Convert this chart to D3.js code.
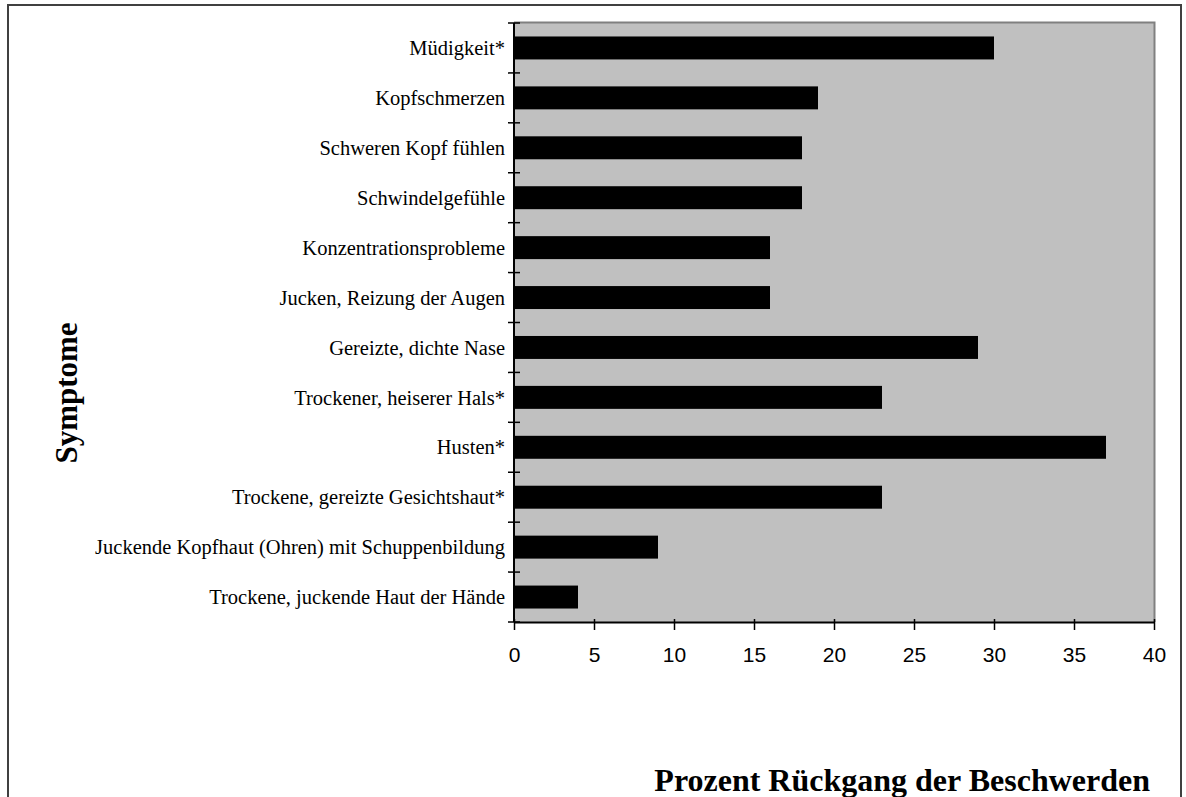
<!DOCTYPE html>
<html>
<head>
<meta charset="utf-8">
<script src="https://cdn.jsdelivr.net/npm/d3@7"></script>
<style>
  body { margin: 0; background: #fff; }
  svg { display: block; }
</style>
</head>
<body>
<div id="chart"></div>
<script>
// symptoms top to bottom, percentage decline of complaints
const symptoms = [
  'Müdigkeit*', 'Kopfschmerzen', 'Schweren Kopf fühlen', 'Schwindelgefühle',
  'Konzentrationsprobleme', 'Jucken, Reizung der Augen', 'Gereizte, dichte Nase',
  'Trockener, heiserer Hals*', 'Husten*', 'Trockene, gereizte Gesichtshaut*',
  'Juckende Kopfhaut (Ohren) mit Schuppenbildung', 'Trockene, juckende Haut der Hände'
];
const decline = [30, 19, 18, 18, 16, 16, 29, 23, 37, 23, 9, 4];
const xTicks = [0, 5, 10, 15, 20, 25, 30, 35, 40];

const W = 1186, H = 797;
const M = { top: 23, right: 32, bottom: 175, left: 514 };
const pw = W - M.left - M.right, ph = H - M.top - M.bottom;

const svg = d3.select('#chart').append('svg').attr('width', W).attr('height', H);

// outer frame
svg.append('rect').attr('x', 8).attr('y', 5).attr('width', 1173).attr('height', 820)
  .attr('fill', '#fff').attr('stroke', '#404040').attr('stroke-width', 2);

const g = svg.append('g').attr('transform', `translate(${M.left},${M.top})`);

const x = d3.scaleLinear().domain([0, 40]).range([0, pw]);
const y = d3.scaleBand().domain(symptoms).range([0, ph]).paddingInner(0.54).paddingOuter(0.27);
const yb = d3.scaleBand().domain(symptoms).range([0, ph]);

g.append('rect').attr('width', pw).attr('height', ph).attr('fill', '#c0c0c0');
g.append('path').attr('d', `M0,-0.5H${pw + 0.5}V${ph}`).attr('fill', 'none')
  .attr('stroke', '#808080').attr('stroke-width', 2);

g.selectAll('rect.bar').data(decline).join('rect').attr('class', 'bar')
  .attr('x', 0).attr('y', (d, i) => y(symptoms[i]))
  .attr('width', d => x(d)).attr('height', y.bandwidth()).attr('fill', '#000');

// y axis: ticks between categories, crossing the axis line
const yEdges = symptoms.map(s => yb(s)).concat([ph]);
g.selectAll('line.yt').data(yEdges).join('line').attr('class', 'yt')
  .attr('x1', -6).attr('x2', 6).attr('y1', d => d).attr('y2', d => d)
  .attr('stroke', '#000').attr('stroke-width', 1.5);
g.append('line').attr('x1', 0).attr('x2', 0).attr('y1', 0).attr('y2', ph)
  .attr('stroke', '#000').attr('stroke-width', 2);
g.selectAll('text.yl').data(symptoms).join('text').attr('class', 'yl')
  .attr('x', -9).attr('y', d => yb(d) + yb.bandwidth() / 2).attr('dy', '0.35em')
  .attr('text-anchor', 'end').attr('font-family', 'Liberation Serif, serif')
  .attr('font-size', '20.5px').attr('fill', '#000').text(d => d);

// x axis
const xa = g.append('g').attr('transform', `translate(0,${ph})`)
  .call(d3.axisBottom(x).tickValues(xTicks).tickSize(8).tickSizeOuter(0));
xa.select('.domain').attr('stroke', '#000').attr('stroke-width', 2);
xa.selectAll('.tick line').attr('y1', -3).attr('stroke-width', 1.5);
xa.selectAll('text').attr('y', 40).attr('dy', 0)
  .attr('font-family', 'Liberation Sans, Arial, sans-serif')
  .attr('font-size', '21px').attr('fill', '#000');

// axis titles
svg.append('text').attr('transform', 'translate(77,393) rotate(-90)')
  .attr('text-anchor', 'middle').attr('font-family', 'Liberation Serif, serif')
  .attr('font-weight', 'bold').attr('font-size', '31px').text('Symptome');
svg.append('text').attr('x', 1150).attr('y', 791).attr('text-anchor', 'end')
  .attr('font-family', 'Liberation Serif, serif').attr('font-weight', 'bold')
  .attr('font-size', '32px').text('Prozent Rückgang der Beschwerden');
</script>
</body>
</html>
